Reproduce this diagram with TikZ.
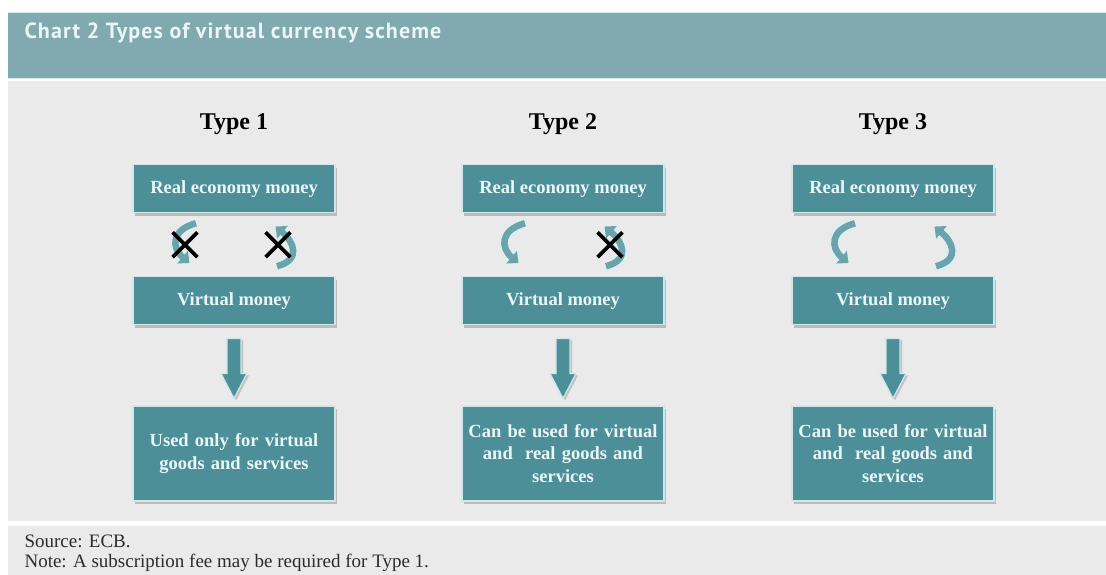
\documentclass[tikz,border=0pt]{standalone}
\usepackage{fontspec}
\setmainfont{Liberation Serif}
\newfontfamily\headfont[LetterSpace=5]{PT Sans}
\usetikzlibrary{arrows.meta,calc,positioning,shadows,shapes.misc}
\definecolor{headTeal}{HTML}{80A9B0}
\definecolor{headEdge}{HTML}{D9ECEC}
\definecolor{panelGray}{HTML}{EAEAEA}
\definecolor{boxTeal}{HTML}{4D8F99}
\definecolor{boxEdge}{HTML}{CFE7EA}
\definecolor{boxText}{HTML}{EAF6F7}
\definecolor{curlTeal}{HTML}{6BA3AC}
\definecolor{curlEdge}{HTML}{DCEFF1}
\definecolor{noteInk}{HTML}{2B2B2B}
\tikzset{
  money box/.style={
    draw=boxEdge,
    fill=boxTeal,
    line width=1.2pt,
    minimum width=202pt,
    minimum height=48pt,
    inner sep=0pt,
    font=\fontsize{18.5}{22.5}\selectfont\bfseries,
    text=boxText,
    align=center,
    drop shadow={shadow xshift=2pt,shadow yshift=-3pt,opacity=0.35,fill=black!60}
  },
  use box/.style={
    money box,
    minimum height=95pt,
    text width=196pt
  },
  type label/.style={
    font=\fontsize{24}{28}\selectfont\bfseries,
    text=black
  },
  block arrow/.style={
    draw=boxEdge,
    fill=boxTeal,
    line width=1.2pt,
    drop shadow={shadow xshift=2pt,shadow yshift=-2pt,opacity=0.3,fill=black!60}
  },
  curl outline/.style={
    draw=curlEdge,
    line width=10pt,
    looseness=1.6,
    -{Triangle[length=12pt,width=21pt]}
  },
  curl/.style={
    draw=curlTeal,
    line width=6.5pt,
    looseness=1.6,
    shorten >=2pt,
    -{Triangle[length=9pt,width=16pt]}
  },
  blocked/.style={
    cross out,
    draw=black,
    line width=3.8pt,
    minimum size=21pt,
    inner sep=0pt
  }
}

\begin{document}
\begin{tikzpicture}[x=1pt,y=1pt]
  \useasboundingbox (0,0) rectangle (1106,-575);
  % panels
  \fill[white] (0,0) rectangle (1106,-575);
  \fill[headTeal] (8,-13) rectangle (1106,-79);
  \draw[headEdge,line width=1pt] (8,-13) -- (1106,-13) (8,-79) -- (1106,-79);
  \fill[panelGray] (8,-81) rectangle (1106,-521);
  \fill[panelGray] (8,-526) rectangle (1106,-575);
  \node[anchor=west,text=boxText,font=\headfont\fontsize{22}{26}\selectfont\bfseries] (title) at (21,-33)
    {Chart 2 Types of virtual currency scheme};

  % type 1
  \node[type label] (type1) at (234,-124) {Type 1};
  \node[money box,below=26pt of type1] (real1) {Real economy money};
  \node[money box,below=63pt of real1] (virtual1) {Virtual money};
  \node[use box,below=80pt of virtual1] (use1) {Used only for virtual\\goods and services};

  % type 2
  \node[type label] (type2) at (563,-124) {Type 2};
  \node[money box,below=26pt of type2] (real2) {Real economy money};
  \node[money box,below=63pt of real2] (virtual2) {Virtual money};
  \node[use box,below=80pt of virtual2] (use2) {Can be used for virtual\\and~ real goods and\\services};

  % type 3
  \node[type label] (type3) at (893,-124) {Type 3};
  \node[money box,below=26pt of type3] (real3) {Real economy money};
  \node[money box,below=63pt of real3] (virtual3) {Virtual money};
  \node[use box,below=80pt of virtual3] (use3) {Can be used for virtual\\and~ real goods and\\services};

  % exchange curls between the two money boxes
  \foreach \i in {1,2,3}{
    \draw[curl outline] ($(real\i.south)+(-38,-10)$) to[out=195,in=140] ($(virtual\i.north)+(-43,12)$);
    \draw[curl] ($(real\i.south)+(-38,-10)$) to[out=195,in=140] ($(virtual\i.north)+(-43,12)$);
    \draw[curl outline] ($(virtual\i.north)+(43,10)$) to[out=15,in=-40] ($(real\i.south)+(40,-12)$);
    \draw[curl] ($(virtual\i.north)+(43,10)$) to[out=15,in=-40] ($(real\i.south)+(40,-12)$);
    \path[block arrow] ($(virtual\i.south)+(-7,-13)$) -- ++(14,0) -- ++(0,-35) -- ++(6,0)
      -- ($(use\i.north)+(0,7)$) -- ++(-13,25) -- ++(6,0) -- cycle;
  }
  \node[blocked] (stop1a) at ($(real1.south)!0.5!(virtual1.north)+(-49,0)$) {};
  \node[blocked] (stop1b) at ($(real1.south)!0.5!(virtual1.north)+(44,0)$) {};
  \node[blocked] (stop2b) at ($(real2.south)!0.5!(virtual2.north)+(47,0)$) {};

  % notes
  \node[anchor=west,align=left,text=noteInk,font=\fontsize{19}{20}\selectfont] (notes) at (21,-553)
    {Source: ECB.\\Note: A subscription fee may be required for Type 1.};
\end{tikzpicture}
\end{document}
